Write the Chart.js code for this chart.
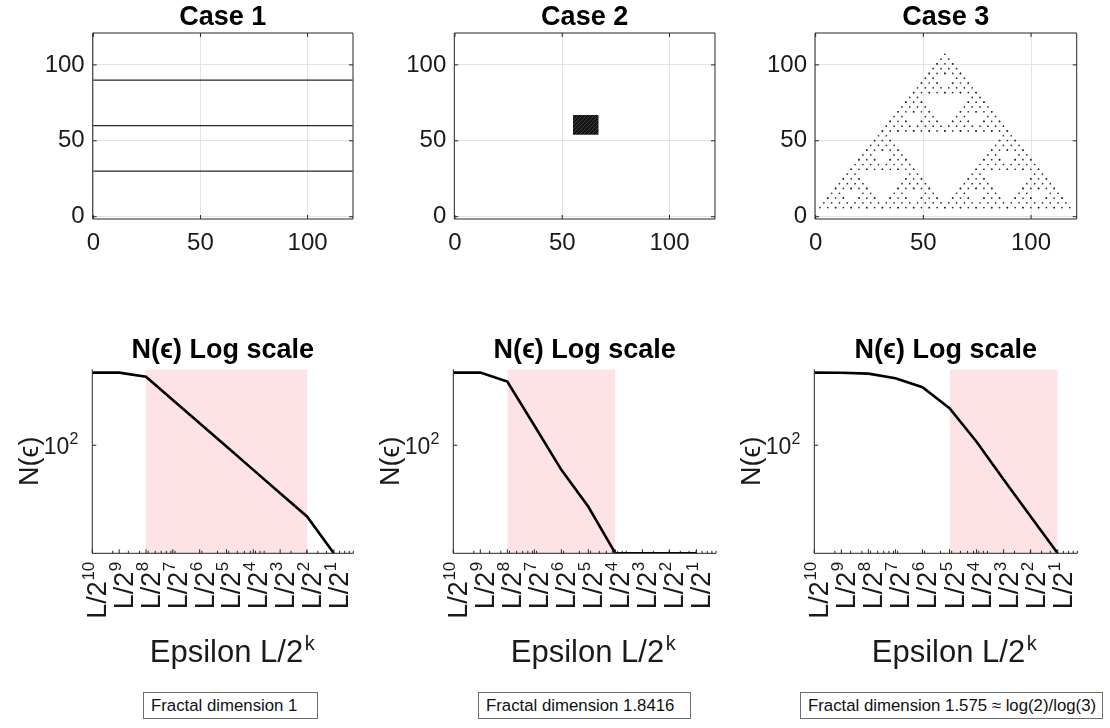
<!DOCTYPE html>
<html><head><meta charset="utf-8">
<script src="https://cdn.jsdelivr.net/npm/chart.js@4.4.0/dist/chart.umd.min.js"></script>
<style>
html,body{margin:0;padding:0;background:#fff;width:1110px;height:728px;overflow:hidden;font-family:"Liberation Sans",Arial,Helvetica,sans-serif;}
.cv{position:absolute;}
.box{position:absolute;top:692px;height:27px;box-sizing:border-box;border:1px solid #6e6e6e;background:#fff;font-size:16.8px;color:#111;padding:3px 0 0 7px;line-height:20px;white-space:nowrap;}
</style></head><body>
<canvas class="cv" id="t1" width="370" height="290" style="left:0;top:0;width:370px;height:290px"></canvas>
<canvas class="cv" id="t2" width="370" height="290" style="left:370px;top:0;width:370px;height:290px"></canvas>
<canvas class="cv" id="t3" width="370" height="290" style="left:740px;top:0;width:370px;height:290px"></canvas>
<canvas class="cv" id="b1" width="370" height="360" style="left:0;top:330px;width:370px;height:360px"></canvas>
<canvas class="cv" id="b2" width="370" height="360" style="left:370px;top:330px;width:370px;height:360px"></canvas>
<canvas class="cv" id="b3" width="370" height="360" style="left:740px;top:330px;width:370px;height:360px"></canvas>
<div class="box" id="r1" style="left:143px;width:175px"></div>
<div class="box" id="r2" style="left:478px;width:213px"></div>
<div class="box" id="r3" style="left:800px;width:303px"></div>
<script>
// ---------- data ----------
const caseTitles = ['Case 1', 'Case 2', 'Case 3'];
const logTitle = 'N(ϵ) Log scale';
const gridTicks = [0, 50, 100];
const L = 121;
const kValues = [10, 9, 8, 7, 6, 5, 4, 3, 2, 1];
const xTickBase = 'L/2';
const xTickExps = ['10', '9', '8', '7', '6', '5', '4', '3', '2', '1'];
const nTickValues = [100];
const nTickBase = ['10'];
const nTickExps = ['2'];
const case1N = [870, 870, 768, 384, 192, 96, 48, 24, 12, 4];
const case2N = [870, 870, 665, 180, 48, 16, 4, 4, 4, 4];
const case3N = [870, 865, 844, 736, 563, 301, 111, 36, 12, 4];
const fitRange1 = [8, 2];
const fitRange2 = [8, 4];
const fitRange3 = [5, 1];
const nMin = 4, nMax = 960;
const epsMax = 100;
const xTitleBase = 'Epsilon L/2';
const xTitleExp = 'k';
const yTitle = 'N(ϵ)';
// case 1: three horizontal lines
const case1LineY = [30, 60, 90];
const case1LineX = [0, 121];
// case 2: filled square
const case2SquareX = [55, 67];
const case2SquareY = [54, 67];
// case 3: Sierpinski gasket, corners and the occupied level-4 cells (row -> cells)
const sierpCornerX = [2, 118, 60];
const sierpCornerY = [6, 6, 107];
const sierpCells = [
  [0,1,2,3,4,5,6,7,8,9,10,11,12,13,14,15],
  [0,2,4,6,8,10,12,14],
  [0,1,4,5,8,9,12,13],
  [0,4,8,12],
  [0,1,2,3,8,9,10,11],
  [0,2,8,10],
  [0,1,8,9],
  [0,8],
  [0,1,2,3,4,5,6,7],
  [0,2,4,6],
  [0,1,4,5],
  [0,4],
  [0,1,2,3],
  [0,2],
  [0,1],
  [0]
];
const resultTexts = ['Fractal dimension 1', 'Fractal dimension 1.8416', 'Fractal dimension 1.575 ≈ log(2)/log(3)'];

// ---------- helpers ----------
const FONT = '"Liberation Sans", Arial, Helvetica, sans-serif';
const INK = '#1a1a1a';
Chart.defaults.font.family = FONT;
Chart.defaults.color = INK;

const epsOf = k => L / Math.pow(2, k);

const framePlugin = {
  id: 'frame',
  afterDatasetsDraw(chart, args, opts) {
    const {ctx, chartArea: a} = chart;
    const xs = chart.scales.x, ys = chart.scales.y;
    ctx.save();
    ctx.strokeStyle = '#262626';
    ctx.lineWidth = 1;
    ctx.beginPath();
    if (opts.box) {
      ctx.rect(a.left, a.top, a.right - a.left, a.bottom - a.top);
    } else {
      ctx.moveTo(a.left, a.top); ctx.lineTo(a.left, a.bottom); ctx.lineTo(a.right, a.bottom);
    }
    ctx.stroke();
    const major = 4, minor = 2.5;
    ctx.beginPath();
    xs.ticks.forEach(t => {
      const p = xs.getPixelForValue(t.value);
      ctx.moveTo(p, a.bottom); ctx.lineTo(p, a.bottom - major);
      if (opts.box) { ctx.moveTo(p, a.top); ctx.lineTo(p, a.top + major); }
    });
    ys.ticks.forEach(t => {
      const p = ys.getPixelForValue(t.value);
      ctx.moveTo(a.left, p); ctx.lineTo(a.left + major, p);
      if (opts.box) { ctx.moveTo(a.right, p); ctx.lineTo(a.right - major, p); }
    });
    if (opts.minorLog) {
      for (let e = -1; e <= 2; e++) {
        for (let m = 1; m <= 9; m++) {
          const v = m * Math.pow(10, e);
          if (v < xs.min || v > xs.max) continue;
          const p = xs.getPixelForValue(v);
          ctx.moveTo(p, a.bottom); ctx.lineTo(p, a.bottom - minor);
        }
      }
    }
    ctx.stroke();
    ctx.restore();
  }
};

// centred title over the plot area
const titlePlugin = {
  id: 'areaTitle',
  afterDraw(chart, args, opts) {
    const {ctx, chartArea: a} = chart;
    ctx.save();
    ctx.font = `bold 27px ${FONT}`;
    ctx.fillStyle = '#000';
    ctx.textAlign = 'center';
    ctx.textBaseline = 'alphabetic';
    ctx.fillText(opts.text, (a.left + a.right) / 2, opts.baseline);
    ctx.restore();
  }
};

// tick labels and axis title with superscripts for the log charts
const logLabelPlugin = {
  id: 'logLabels',
  afterDraw(chart) {
    const {ctx, chartArea: a} = chart;
    const xs = chart.scales.x, ys = chart.scales.y;
    ctx.save();
    ctx.fillStyle = INK;
    ctx.textBaseline = 'alphabetic';
    ctx.textAlign = 'left';
    const mainF = `27px ${FONT}`, supF = `17px ${FONT}`;
    xs.ticks.forEach((t, i) => {
      const px = xs.getPixelForValue(t.value);
      ctx.font = mainF; const wm = ctx.measureText(xTickBase).width;
      ctx.font = supF; const ws = ctx.measureText(xTickExps[i]).width;
      ctx.save();
      ctx.translate(px, a.bottom + 8.4 + wm + ws + 0.5);
      ctx.rotate(-Math.PI / 2);
      ctx.font = mainF; ctx.fillText(xTickBase, 0, 14);
      ctx.font = supF; ctx.fillText(xTickExps[i], wm + 0.5, 2);
      ctx.restore();
    });
    ys.ticks.forEach((t, i) => {
      const py = ys.getPixelForValue(t.value);
      ctx.font = `16px ${FONT}`; const w2 = ctx.measureText(nTickExps[i]).width;
      ctx.font = `23px ${FONT}`; const w1 = ctx.measureText(nTickBase[i]).width;
      const right = a.left - 14;
      ctx.fillText(nTickBase[i], right - w2 - w1, py + 8.3);
      ctx.font = `16px ${FONT}`;
      ctx.fillText(nTickExps[i], right - w2, py - 1.5);
    });
    ctx.font = `31px ${FONT}`;
    const wt = ctx.measureText(xTitleBase).width;
    const x0 = a.left + 57.5, base = a.bottom + 108.4;
    ctx.fillText(xTitleBase, x0, base);
    ctx.font = `20px ${FONT}`;
    ctx.fillText(xTitleExp, x0 + wt + 1.5, base - 12);
    ctx.restore();
  }
};

function topChart(id, idx, datasets, areaLeft, padRight) {
  const H = 290, areaTop = 33, areaBottom = 219;
  return new Chart(document.getElementById(id), {
    type: 'scatter',
    data: {datasets},
    plugins: [framePlugin, titlePlugin],
    options: {
      responsive: false, animation: false,
      layout: {padding: {left: 0, right: padRight, top: areaTop, bottom: 0}},
      plugins: {
        legend: {display: false}, tooltip: {enabled: false}, title: {display: false},
        areaTitle: {text: caseTitles[idx], baseline: 24.5},
        frame: {box: true}
      },
      scales: {
        x: {type: 'linear', min: -0.3, max: 121.2,
          afterBuildTicks: s => { s.ticks = gridTicks.map(v => ({value: v})); },
          afterFit: s => { s.height = H - areaBottom; },
          grid: {color: '#e3e3e3', drawTicks: false, lineWidth: 1},
          border: {display: false},
          ticks: {font: {size: 24}, color: INK, padding: 10, maxRotation: 0}},
        y: {type: 'linear', min: -1.5, max: 121,
          afterBuildTicks: s => { s.ticks = gridTicks.map(v => ({value: v})); },
          afterFit: s => { s.width = areaLeft; },
          grid: {color: '#e3e3e3', drawTicks: false, lineWidth: 1},
          border: {display: false},
          ticks: {font: {size: 24}, color: INK, padding: 8}}
      }
    }
  });
}

function bottomChart(id, values, range, areaLeft, padRight) {
  const H = 360, areaTop = 39.3, areaBottom = 223.3;
  const pts = kValues.map((k, i) => ({x: epsOf(k), y: values[i]}));
  return new Chart(document.getElementById(id), {
    type: 'scatter',
    data: {datasets: [
      {data: pts, showLine: true, borderColor: '#000', borderWidth: 2.6, pointRadius: 0, order: 1, tension: 0},
      {data: [{x: epsOf(range[0]), y: nMax}, {x: epsOf(range[1]), y: nMax}], showLine: true,
        borderWidth: 0, pointRadius: 0, fill: 'start', backgroundColor: '#fde3e6', order: 2}
    ]},
    plugins: [framePlugin, titlePlugin, logLabelPlugin],
    options: {
      responsive: false, animation: false,
      layout: {padding: {left: 0, right: padRight, top: areaTop, bottom: 0}},
      plugins: {
        legend: {display: false}, tooltip: {enabled: false}, title: {display: false},
        areaTitle: {text: logTitle, baseline: 28},
        frame: {box: false, minorLog: true}
      },
      scales: {
        x: {type: 'logarithmic', min: epsOf(10), max: epsMax,
          afterBuildTicks: s => { s.ticks = kValues.map(k => ({value: epsOf(k)})); },
          afterFit: s => { s.height = H - areaBottom; },
          grid: {display: false},
          border: {display: false},
          ticks: {display: false}},
        y: {type: 'logarithmic', min: nMin, max: nMax,
          afterBuildTicks: s => { s.ticks = nTickValues.map(v => ({value: v})); },
          afterFit: s => { s.width = areaLeft; },
          grid: {display: false},
          border: {display: false},
          ticks: {display: false},
          title: {display: true, text: yTitle, color: INK, font: {size: 27}, padding: {top: areaLeft - 62 - 16.2, bottom: 0}}}
      }
    }
  });
}

// ---------- build datasets ----------
// dense-point texture for the filled square of case 2
function squareTexture() {
  const c = document.createElement('canvas');
  c.width = 4; c.height = 4;
  const g = c.getContext('2d');
  g.fillStyle = '#141414'; g.fillRect(0, 0, 4, 4);
  g.fillStyle = '#3c3c3c';
  g.fillRect(3, 0, 1, 1); g.fillRect(2, 1, 1, 1); g.fillRect(1, 2, 1, 1); g.fillRect(0, 3, 1, 1);
  return g.createPattern(c, 'repeat');
}
const lineStyle = {showLine: true, borderColor: '#262626', borderWidth: 1.2, pointRadius: 0};
const case1Sets = case1LineY.map(y => Object.assign({data: case1LineX.map(x => ({x, y}))}, lineStyle));
const case2Sets = [
  {data: case2SquareX.map(x => ({x, y: case2SquareY[1]})), showLine: true, borderWidth: 0, pointRadius: 0,
    fill: '+1', backgroundColor: squareTexture()},
  {data: case2SquareX.map(x => ({x, y: case2SquareY[0]})), showLine: true, borderWidth: 0, pointRadius: 0}
];
const N = sierpCells.length;
const cellOffsets = [[0,0],[1,0],[0,1],[0.5,0],[0,0.5],[0.5,0.5]];
const sierpPts = [];
sierpCells.forEach((row, a) => row.forEach(b => cellOffsets.forEach(([di, dj]) => {
  const i = (a + di) / N, j = (b + dj) / N;
  sierpPts.push({
    x: sierpCornerX[0] + j * (sierpCornerX[1] - sierpCornerX[0]) + i * (sierpCornerX[2] - sierpCornerX[0]),
    y: sierpCornerY[0] + j * (sierpCornerY[1] - sierpCornerY[0]) + i * (sierpCornerY[2] - sierpCornerY[0])
  });
})));
const case3Sets = [{data: sierpPts, pointRadius: 0.85, pointBorderWidth: 0, pointBackgroundColor: '#2a2a2a'}];

topChart('t1', 0, case1Sets, 92.7, 17);
topChart('t2', 1, case2Sets, 84.3, 25);
topChart('t3', 2, case3Sets, 75, 33.3);
bottomChart('b1', case1N, fitRange1, 92.3, 16.7);
bottomChart('b2', case2N, fitRange2, 83.3, 24);
bottomChart('b3', case3N, fitRange3, 74.3, 32.7);
['r1', 'r2', 'r3'].forEach((id, i) => { document.getElementById(id).textContent = resultTexts[i]; });
</script>
</body></html>
